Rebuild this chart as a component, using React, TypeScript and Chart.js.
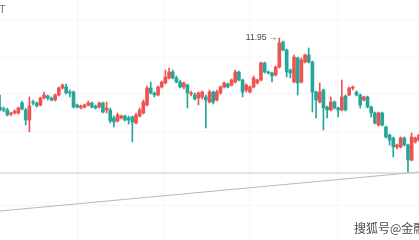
import { useEffect, useRef } from "react";
import { Chart, registerables } from "chart.js";
Chart.register(...registerables);

const opens = [
  11.26, 11.24, 11.23, 11.19, 11.2, 11.2, 11.3, 11.23, 11.13, 11.31,
  11.3, 11.28, 11.35, 11.37, 11.35, 11.33, 11.38, 11.45, 11.46, 11.41,
  11.41, 11.28, 11.25, 11.26, 11.28, 11.3, 11.27, 11.26, 11.3, 11.23,
  11.23, 11.15, 11.12, 11.15, 11.17, 11.15, 11.16, 11.1, 11.17, 11.2,
  11.28, 11.45, 11.4, 11.38, 11.46, 11.5, 11.55, 11.61, 11.55, 11.51,
  11.46, 11.48, 11.39, 11.38, 11.35, 11.36, 11.36, 11.31, 11.41, 11.33,
  11.4, 11.46, 11.49, 11.48, 11.51, 11.61, 11.53, 11.43, 11.41, 11.46,
  11.5, 11.53, 11.7, 11.61, 11.6, 11.58, 11.66, 11.91, 11.83, 11.63,
  11.51, 11.75, 11.51, 11.71, 11.78, 11.71, 11.41, 11.31, 11.43, 11.26,
  11.23, 11.31, 11.25, 11.23, 11.37, 11.38, 11.45, 11.41, 11.38, 11.33,
  11.36, 11.26, 11.2, 11.08, 11.2, 11.06, 10.98, 10.95, 10.86, 10.86,
  10.95, 10.88, 10.73, 10.91, 10.93,
];
const highs = [
  11.38, 11.26, 11.25, 11.21, 11.23, 11.26, 11.32, 11.25, 11.36, 11.33,
  11.31, 11.36, 11.41, 11.38, 11.36, 11.39, 11.46, 11.49, 11.49, 11.43,
  11.42, 11.29, 11.28, 11.29, 11.32, 11.31, 11.28, 11.31, 11.31, 11.31,
  11.25, 11.17, 11.2, 11.18, 11.18, 11.17, 11.17, 11.2, 11.25, 11.33,
  11.47, 11.51, 11.41, 11.47, 11.52, 11.63, 11.65, 11.63, 11.57, 11.53,
  11.51, 11.49, 11.42, 11.4, 11.41, 11.42, 11.38, 11.43, 11.42, 11.43,
  11.47, 11.51, 11.5, 11.54, 11.63, 11.62, 11.54, 11.49, 11.47, 11.57,
  11.54, 11.71, 11.71, 11.62, 11.61, 11.67, 11.95, 11.92, 11.84, 11.64,
  11.78, 11.76, 11.75, 11.79, 11.85, 11.72, 11.42, 11.5, 11.44, 11.27,
  11.36, 11.32, 11.26, 11.53, 11.38, 11.46, 11.47, 11.42, 11.39, 11.37,
  11.37, 11.27, 11.21, 11.21, 11.21, 11.07, 10.99, 10.96, 10.89, 10.96,
  10.96, 10.89, 11.0, 10.96, 10.99,
];
const lows = [
  11.22, 11.21, 11.17, 11.17, 11.19, 11.19, 11.23, 11.08, 11.01, 11.28,
  11.26, 11.27, 11.34, 11.33, 11.32, 11.32, 11.37, 11.44, 11.39, 11.36,
  11.25, 11.25, 11.24, 11.25, 11.27, 11.25, 11.24, 11.25, 11.2, 11.2,
  11.1, 11.06, 11.11, 11.14, 11.12, 11.09, 10.91, 11.09, 11.16, 11.19,
  11.27, 11.39, 11.36, 11.37, 11.45, 11.49, 11.54, 11.54, 11.5, 11.45,
  11.44, 11.25, 11.37, 11.33, 11.28, 11.34, 11.05, 11.3, 11.29, 11.32,
  11.39, 11.45, 11.45, 11.47, 11.5, 11.52, 11.36, 11.41, 11.4, 11.45,
  11.49, 11.52, 11.6, 11.59, 11.51, 11.57, 11.65, 11.82, 11.56, 11.55,
  11.5, 11.38, 11.5, 11.7, 11.7, 11.21, 11.15, 11.3, 11.03, 11.15,
  11.22, 11.24, 11.16, 11.22, 11.22, 11.37, 11.43, 11.37, 11.25, 11.32,
  11.25, 11.16, 11.09, 11.07, 11.07, 10.95, 10.88, 10.76, 10.84, 10.85,
  10.87, 10.61, 10.72, 10.9, 10.92,
];
const closes = [
  11.23, 11.23, 11.18, 11.2, 11.22, 11.25, 11.24, 11.13, 11.27, 11.3,
  11.27, 11.35, 11.38, 11.35, 11.33, 11.38, 11.45, 11.48, 11.4, 11.4,
  11.26, 11.26, 11.27, 11.28, 11.3, 11.26, 11.25, 11.3, 11.21, 11.25,
  11.12, 11.11, 11.18, 11.17, 11.13, 11.13, 11.11, 11.18, 11.23, 11.31,
  11.45, 11.4, 11.38, 11.46, 11.51, 11.56, 11.61, 11.55, 11.51, 11.46,
  11.5, 11.4, 11.4, 11.34, 11.4, 11.41, 11.33, 11.41, 11.31, 11.41,
  11.46, 11.5, 11.46, 11.53, 11.61, 11.53, 11.41, 11.48, 11.46, 11.55,
  11.53, 11.7, 11.61, 11.6, 11.57, 11.66, 11.9, 11.83, 11.61, 11.6,
  11.76, 11.5, 11.73, 11.78, 11.71, 11.41, 11.33, 11.41, 11.25, 11.23,
  11.31, 11.25, 11.23, 11.36, 11.23, 11.45, 11.46, 11.38, 11.28, 11.36,
  11.26, 11.2, 11.1, 11.2, 11.08, 10.96, 10.93, 10.86, 10.88, 10.95,
  10.88, 10.73, 10.96, 10.95, 10.98,
];

// horizontal price line and rising trend line (start, end prices)
const supportLine = [10.6, 10.6];
const trendLine = [10.22, 10.61];

// visible price window and faint grid positions
const yMin = 9.93;
const yMax = 12.33;
const yGrid = [12.13, 11.76, 11.39, 11.02, 10.28];
const xGrid = [21, 44.4, 68, 91.7];

const UP = "#ef5350";
const DOWN = "#26a69a";

export default function App() {
  const ref = useRef<HTMLCanvasElement>(null);

  useEffect(() => {
    document.body.style.margin = "0";
    const n = opens.length;
    const idx = opens.map((_, i) => i);
    const colors = idx.map((i) => (closes[i] >= opens[i] ? UP : DOWN));
    const bodies = idx.map((i) => ({
      x: i,
      y: [Math.min(opens[i], closes[i]), Math.max(opens[i], closes[i])],
    }));
    const wicks = idx.map((i) => ({ x: i, y: [lows[i], highs[i]] }));

    const peakLabel = {
      id: "peakLabel",
      afterDatasetsDraw(chart: any) {
        const maxV = Math.max(...highs);
        const i = highs.indexOf(maxV);
        const x = chart.scales.x.getPixelForValue(i);
        const y = chart.scales.y.getPixelForValue(maxV);
        const ctx = chart.ctx;
        ctx.save();
        ctx.font = "8.5px 'Liberation Sans', Arial, sans-serif";
        ctx.fillStyle = "#444";
        ctx.textAlign = "right";
        ctx.textBaseline = "middle";
        ctx.fillText(maxV.toFixed(2) + " \u2192", x - 2, y);
        ctx.restore();
      },
    };

    const chart = new Chart(ref.current as HTMLCanvasElement, {
      type: "bar",
      data: {
        datasets: [
          {
            type: "bar",
            data: bodies as any,
            backgroundColor: colors,
            barThickness: 3,
            grouped: false,
            minBarLength: 1,
            order: 1,
          } as any,
          {
            type: "bar",
            data: wicks as any,
            backgroundColor: colors,
            barThickness: 1,
            grouped: false,
            order: 2,
          } as any,
          {
            type: "line",
            data: [
              { x: 0, y: supportLine[0] },
              { x: n - 1, y: supportLine[1] },
            ],
            borderColor: "#c6c6c6",
            borderWidth: 1,
            pointRadius: 0,
            order: 3,
          } as any,
          {
            type: "line",
            data: [
              { x: 0, y: trendLine[0] },
              { x: n - 1, y: trendLine[1] },
            ],
            borderColor: "#b8b8b8",
            borderWidth: 1,
            pointRadius: 0,
            order: 4,
          } as any,
        ],
      },
      options: {
        animation: false,
        responsive: false,
        maintainAspectRatio: false,
        layout: { padding: 0 },
        plugins: { legend: { display: false }, tooltip: { enabled: false } },
        scales: {
          x: {
            type: "linear",
            min: 0,
            max: n - 1,
            offset: false,
            display: true,
            ticks: { display: false },
            grid: { color: "#f5f5f5", drawTicks: false, offset: false },
            border: { display: false },
            afterBuildTicks: (s: any) => {
              s.ticks = xGrid.map((v) => ({ value: v }));
            },
          },
          y: {
            type: "linear",
            min: yMin,
            max: yMax,
            display: true,
            ticks: { display: false },
            grid: { color: "#f5f5f5", drawTicks: false },
            border: { display: false },
            afterBuildTicks: (s: any) => {
              s.ticks = yGrid.map((v) => ({ value: v }));
            },
          },
        },
      } as any,
      plugins: [peakLabel],
    });
    return () => chart.destroy();
  }, []);

  return (
    <div
      style={{
        position: "relative",
        width: 419,
        height: 240,
        overflow: "hidden",
        background: "#fff",
      }}
    >
      <canvas ref={ref} width={419} height={240} style={{ display: "block" }} />
      <div
        style={{
          position: "absolute",
          left: -1,
          top: 3,
          fontSize: 11,
          fontFamily: "'Liberation Sans', Arial, sans-serif",
          color: "#777",
          lineHeight: "12px",
        }}
      >
        T
      </div>
      <div
        style={{
          position: "absolute",
          left: 354,
          top: 220,
          fontSize: 12,
          lineHeight: "16px",
          whiteSpace: "nowrap",
          fontFamily: "'Noto Sans CJK SC', sans-serif",
          color: "#4a4a4a",
          textShadow:
            "0 0 2px #fff, 1px 0 1px #fff, -1px 0 1px #fff, 0 1px 1px #fff, 0 -1px 1px #fff",
        }}
      >
        搜狐号@金融
      </div>
    </div>
  );
}
